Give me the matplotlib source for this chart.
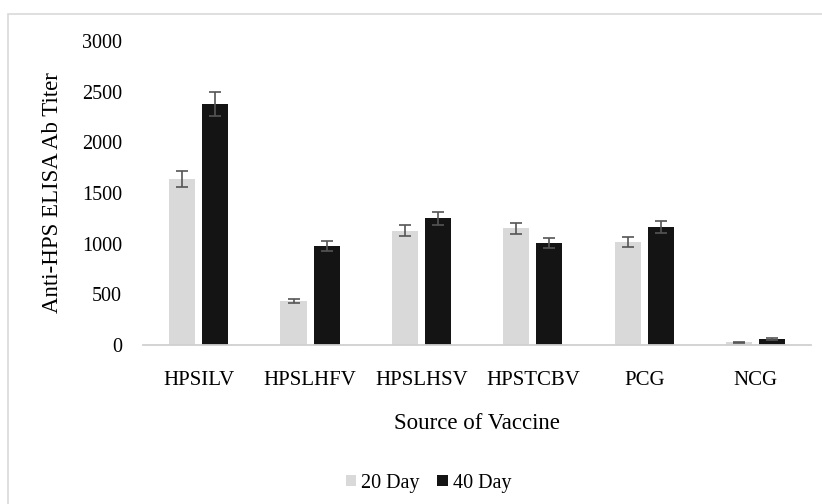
import numpy as np
import matplotlib
matplotlib.use("Agg")
import matplotlib.pyplot as plt
from matplotlib.patches import Rectangle

plt.rcParams['font.family'] = ['Liberation Serif', 'DejaVu Serif']

groups = ['HPSILV', 'HPSLHFV', 'HPSLHSV', 'HPSTCBV', 'PCG', 'NCG']
day20 = [1640, 430, 1130, 1150, 1020, 25]
day40 = [2380, 975, 1250, 1010, 1165, 60]
err20 = [80, 20, 55, 55, 50, 5]
err40 = [120, 50, 65, 50, 55, 8]
yticks = [0, 500, 1000, 1500, 2000, 2500, 3000]

fig = plt.figure(figsize=(8.22, 5.04), dpi=100)
ax = fig.add_axes([0.174, 0.3155, 0.813, 0.603])

x = np.arange(len(groups))
w = 0.234
off = 0.149
ekw = dict(ecolor='#555555', elinewidth=1.2, capsize=4, capthick=1.2)
ax.bar(x - off, day20, w, yerr=err20, color='#d9d9d9', label='20 Day', error_kw=ekw)
ax.bar(x + off, day40, w, yerr=err40, color='#141414', label='40 Day', error_kw=ekw)

ax.set_xlim(-0.5, len(groups) - 0.5)
ax.set_ylim(0, 3000)
ax.set_yticks(yticks)
ax.set_xticks(x)
ax.set_xticklabels(groups)
ax.tick_params(axis='both', length=0, colors='black')
ax.tick_params(axis='y', pad=15, labelsize=14.5)
ax.tick_params(axis='x', pad=19, labelsize=15)
for s in ['top', 'right', 'left']:
    ax.spines[s].set_visible(False)
ax.spines['bottom'].set_color('#d0d0d0')
ax.spines['bottom'].set_linewidth(1.3)

ax.set_ylabel('Anti-HPS ELISA Ab Titer', fontsize=16.5, labelpad=14)
ax.set_xlabel('Source of Vaccine', fontsize=16.5, labelpad=16)

ax.legend(loc='center', bbox_to_anchor=(0.427, -0.455), ncol=2, frameon=False,
          fontsize=14.5, handlelength=0.5, handleheight=0.5, handletextpad=0.25,
          columnspacing=0.9, borderpad=0)

# outer frame of the original chart
fig.patches.append(Rectangle((8 / 822, -0.1), 1.2, 1 - 14 / 504 + 0.1,
                             transform=fig.transFigure, fill=False,
                             edgecolor='#d9d9d9', linewidth=1.2))

fig.savefig('out.png', dpi=100)
